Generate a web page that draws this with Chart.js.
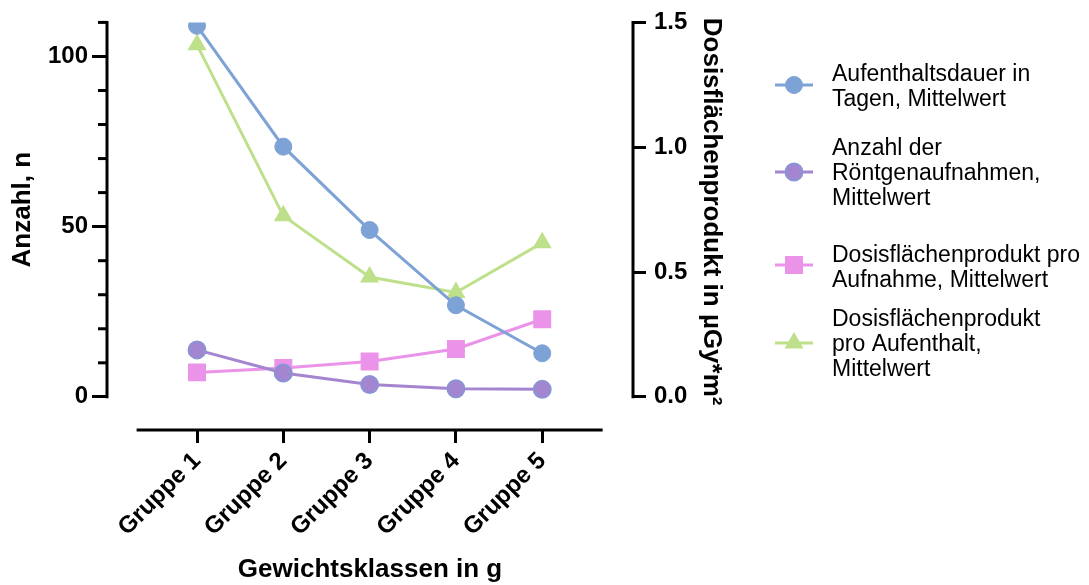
<!DOCTYPE html>
<html lang="de">
<head>
<meta charset="utf-8">
<title>Gewichtsklassen</title>
<script src="https://cdn.jsdelivr.net/npm/chart.js@4.4.1/dist/chart.umd.min.js"></script>
<style>
  html, body { margin: 0; padding: 0; background: #fff; }
  #wrap { position: relative; width: 1089px; height: 585px; }
</style>
</head>
<body>
<div id="wrap"><canvas id="chart" width="1089" height="585"></canvas></div>
<script>
// Werte je Gewichtsklasse
const gruppen = ['Gruppe 1', 'Gruppe 2', 'Gruppe 3', 'Gruppe 4', 'Gruppe 5'];
const aufenthaltsdauer = [109.0, 73.5, 49.0, 26.9, 12.8];   // Tage
const anzahlRoentgen = [13.8, 7.0, 3.6, 2.4, 2.2];          // Aufnahmen
const dfpProAufnahme = [0.098, 0.116, 0.142, 0.192, 0.311]; // µGy*m²
const dfpProAufenthalt = [1.41, 0.725, 0.48, 0.418, 0.617]; // µGy*m²

// Achsenbeschriftung
const ticksLinks = [0, 50, 100];
const minorLinks = [10, 20, 30, 40, 60, 70, 80, 90, 110];
const ticksRechts = [0, 0.5, 1.0, 1.5];

const FONT = "'Liberation Sans', Arial, sans-serif";
const blau = '#7da2d5';
const lila = '#a386cf';
const lilaRand = '#8a93d6';
const rosa = '#ea93e8';
const gruen = '#bee08a';

const legendeTexte = [
  ['Aufenthaltsdauer in', 'Tagen, Mittelwert'],
  ['Anzahl der', 'Röntgenaufnahmen,', 'Mittelwert'],
  ['Dosisflächenprodukt pro', 'Aufnahme, Mittelwert'],
  ['Dosisflächenprodukt', 'pro Aufenthalt,', 'Mittelwert']
];

const punkte = arr => arr.map((v, i) => ({ x: i, y: v }));

function linie(ctx, x1, y1, x2, y2) {
  ctx.beginPath();
  ctx.moveTo(x1, y1);
  ctx.lineTo(x2, y2);
  ctx.stroke();
}

// Achsenlinien, Nebenstriche, Achsentitel und Legende
const achsen = {
  id: 'achsen',
  afterDraw(chart) {
    const { ctx, chartArea, scales } = chart;
    const yl = scales.yLinks, yr = scales.yRechts, x = scales.x;
    ctx.save();
    ctx.strokeStyle = '#000';
    ctx.lineWidth = 3;

    const l0 = yl.getPixelForValue(0), lTop = yl.getPixelForValue(110);
    linie(ctx, chartArea.left, lTop - 1.5, chartArea.left, l0 + 1.5);
    minorLinks.forEach(v => {
      const py = yl.getPixelForValue(v);
      linie(ctx, chartArea.left - 9, py, chartArea.left, py);
    });

    const r0 = yr.getPixelForValue(0), rTop = yr.getPixelForValue(1.5);
    linie(ctx, chartArea.right, rTop - 1.5, chartArea.right, r0 + 1.5);

    linie(ctx, x.getPixelForValue(-0.7), chartArea.bottom, x.getPixelForValue(4.7), chartArea.bottom);

    // Titel
    ctx.fillStyle = '#000';
    ctx.font = 'bold 26px ' + FONT;
    ctx.textAlign = 'center';
    ctx.textBaseline = 'middle';
    ctx.save();
    ctx.translate(23, (l0 + lTop) / 2);
    ctx.rotate(-Math.PI / 2);
    ctx.fillText('Anzahl, n', 0, 0);
    ctx.restore();
    ctx.save();
    ctx.translate(711, (r0 + rTop) / 2 + 2);
    ctx.rotate(Math.PI / 2);
    ctx.fillText('Dosisflächenprodukt in µGy*m²', 0, 0);
    ctx.restore();
    ctx.textBaseline = 'alphabetic';
    ctx.fillText('Gewichtsklassen in g', (chartArea.left + chartArea.right) / 2, 577);

    // Legende
    const markerY = [85, 172, 265, 343];
    const textY = [81, 155, 261.5, 326];
    ctx.font = '23px ' + FONT;
    ctx.textAlign = 'left';
    chart.data.datasets.forEach((ds, i) => {
      const my = markerY[i];
      ctx.strokeStyle = ds.borderColor;
      ctx.lineWidth = 3;
      linie(ctx, 775, my, 813, my);
      ctx.fillStyle = ds.pointBackgroundColor;
      ctx.strokeStyle = ds.pointBorderColor;
      ctx.lineWidth = ds.pointBorderWidth;
      Chart.helpers.drawPoint(ctx, {
        pointStyle: ds.pointStyle, radius: ds.pointRadius,
        borderWidth: ds.pointBorderWidth, rotation: 0
      }, 794, my);
      ctx.fillStyle = '#000';
      legendeTexte[i].forEach((t, j) => ctx.fillText(t, 832, textY[i] + j * 25));
    });
    ctx.restore();
  }
};

const tickFont = { family: FONT, size: 24, weight: 'bold' };

new Chart(document.getElementById('chart'), {
  type: 'line',
  data: {
    datasets: [
      {
        label: 'Aufenthaltsdauer in Tagen, Mittelwert',
        data: punkte(aufenthaltsdauer), yAxisID: 'yLinks',
        borderColor: blau, pointBackgroundColor: blau, pointBorderColor: blau,
        pointStyle: 'circle', pointRadius: 8.5, pointBorderWidth: 1
      },
      {
        label: 'Anzahl der Röntgenaufnahmen, Mittelwert',
        data: punkte(anzahlRoentgen), yAxisID: 'yLinks',
        borderColor: lila, pointBackgroundColor: lila, pointBorderColor: lilaRand,
        pointStyle: 'circle', pointRadius: 8.5, pointBorderWidth: 2
      },
      {
        label: 'Dosisflächenprodukt pro Aufnahme, Mittelwert',
        data: punkte(dfpProAufnahme), yAxisID: 'yRechts',
        borderColor: rosa, pointBackgroundColor: rosa, pointBorderColor: rosa,
        pointStyle: 'rect', pointRadius: 12.7, pointBorderWidth: 0
      },
      {
        label: 'Dosisflächenprodukt pro Aufenthalt, Mittelwert',
        data: punkte(dfpProAufenthalt), yAxisID: 'yRechts',
        borderColor: gruen, pointBackgroundColor: gruen, pointBorderColor: gruen,
        pointStyle: 'triangle', pointRadius: 11, pointBorderWidth: 0
      }
    ]
  },
  options: {
    responsive: false,
    animation: false,
    devicePixelRatio: 1,
    layout: { padding: { left: 0, top: 18, right: 361, bottom: 0 } },
    elements: { line: { borderWidth: 3, tension: 0 } },
    plugins: { legend: { display: false }, tooltip: { enabled: false } },
    scales: {
      x: {
        type: 'linear', position: 'bottom',
        min: -1.043, max: 5.052,
        afterFit: s => { s.height = 155; },
        afterBuildTicks: s => { s.ticks = gruppen.map((_, i) => ({ value: i })); },
        border: { display: false },
        grid: { drawOnChartArea: false, drawTicks: true, tickLength: 13, color: '#000', lineWidth: 3 },
        ticks: {
          autoSkip: false, minRotation: 45, maxRotation: 45, padding: 4,
          color: '#000', font: tickFont,
          callback: v => gruppen[v]
        }
      },
      yLinks: {
        type: 'linear', position: 'left',
        min: -9.735, max: 110,
        afterFit: s => { s.width = 107; },
        afterBuildTicks: s => { s.ticks = ticksLinks.map(v => ({ value: v })); },
        border: { display: false },
        grid: { drawOnChartArea: false, drawTicks: true, tickLength: 15, color: '#000', lineWidth: 3 },
        ticks: { padding: 4, color: '#000', font: tickFont }
      },
      yRechts: {
        type: 'linear', position: 'right',
        min: -0.1328, max: 1.5,
        afterFit: s => { s.width = 95; },
        afterBuildTicks: s => { s.ticks = ticksRechts.map(v => ({ value: v })); },
        border: { display: false },
        grid: { drawOnChartArea: false, drawTicks: true, tickLength: 13, color: '#000', lineWidth: 3 },
        ticks: { padding: 8, color: '#000', font: tickFont, callback: v => v.toFixed(1) }
      }
    }
  },
  plugins: [achsen]
});
</script>
</body>
</html>
